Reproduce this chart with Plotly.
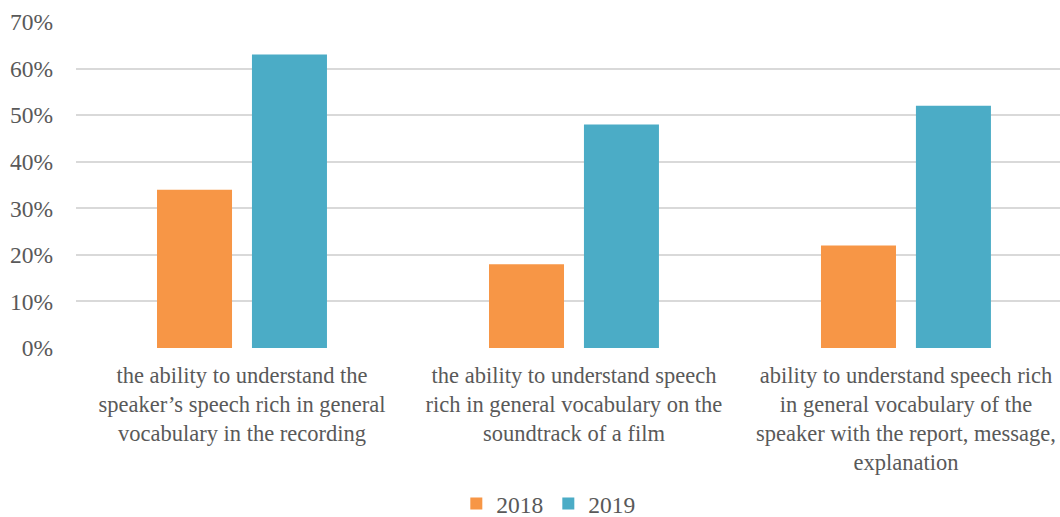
import plotly.graph_objects as go

categories = [
    "the ability to understand the<br>speaker’s speech rich in general<br>vocabulary in the recording",
    "the ability to understand speech<br>rich in general vocabulary on the<br>soundtrack of a film",
    "ability to understand speech rich<br>in general vocabulary of the<br>speaker with the report, message,<br>explanation",
]
values_2018 = [0.34, 0.18, 0.22]
values_2019 = [0.63, 0.48, 0.52]
series_names = ["2018", "2019"]
colors = ["#F79646", "#4BACC6"]

font_family = "'Times New Roman', 'Liberation Serif', 'DejaVu Serif', serif"
text_color = "#595959"

fig = go.Figure()
for name, vals, col in zip(series_names, [values_2018, values_2019], colors):
    fig.add_trace(go.Bar(x=categories, y=vals, name=name, marker_color=col,
                         marker_line_width=0))

fig.update_layout(
    width=1060, height=517,
    margin=dict(l=76, r=0, t=22, b=169, autoexpand=False),
    paper_bgcolor="white", plot_bgcolor="white",
    barmode="group", bargap=0.428, bargroupgap=0.21,
    font=dict(family=font_family, size=23, color=text_color),
    showlegend=True,
    legend=dict(orientation="h", x=0.48, xanchor="center", yref="paper",
                y=-0.478, yanchor="middle", font=dict(family=font_family, size=23.5, color=text_color),
                itemwidth=30, traceorder="normal"),
)
fig.update_xaxes(range=[-0.5, 2.464], showgrid=False, zeroline=False, showline=False,
                 tickangle=0, ticks="", ticklabelstandoff=11, automargin=False,
                 tickfont=dict(family=font_family, size=22.5, color=text_color))
fig.update_yaxes(range=[0, 0.7], dtick=0.1, tickformat=".0%", showgrid=True,
                 gridcolor="#D9D9D9", gridwidth=1.5, zeroline=False, showline=False,
                 ticks="", ticklabelstandoff=22, automargin=False,
                 tickfont=dict(family=font_family, size=23.5, color=text_color))

fig.write_html("out.html", config={"displayModeBar": False},
               post_script="document.body.style.margin='0';")
